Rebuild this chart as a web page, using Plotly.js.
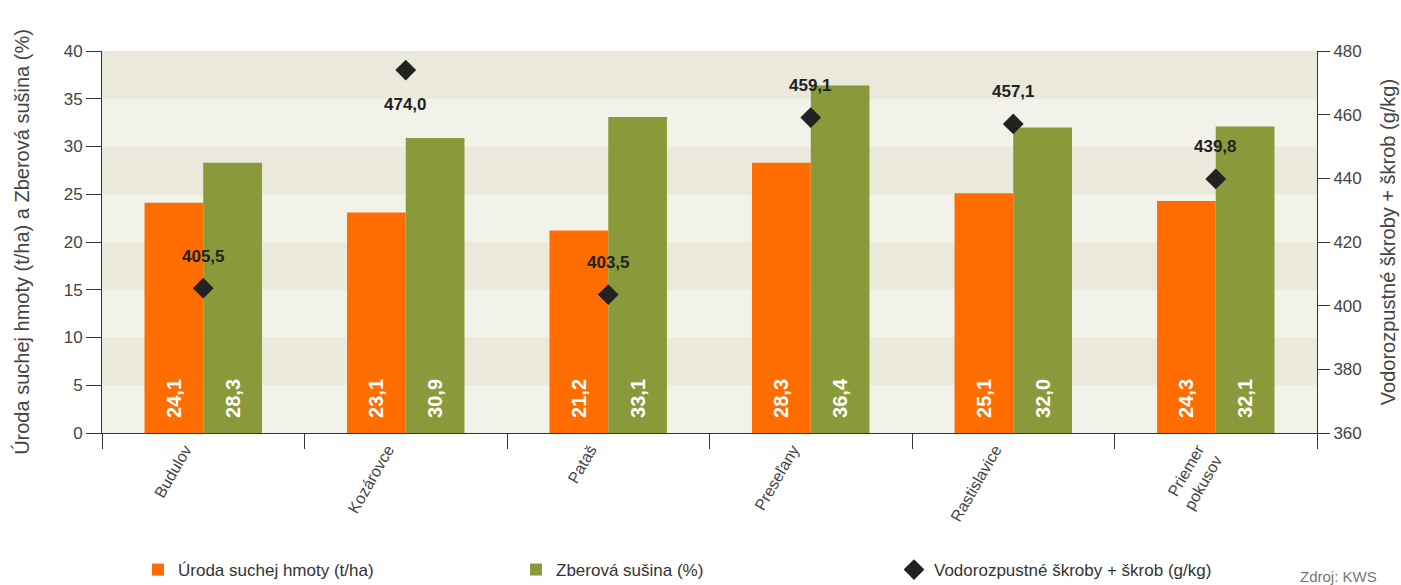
<!DOCTYPE html>
<html><head><meta charset="utf-8">
<script src="https://cdn.plot.ly/plotly-3.0.1.min.js"></script>
<style>html,body{margin:0;padding:0;background:#fff;}#chart{width:1401px;height:585px;}</style>
</head><body><div id="chart"></div>
<script>
const categories = ['Budulov','Kozárovce','Pataš','Preseľany','Rastislavice','Priemer<br>pokusov'];
const yieldDM = [24.1, 23.1, 21.2, 28.3, 25.1, 24.3];
const dryMatter = [28.3, 30.9, 33.1, 36.4, 32.0, 32.1];
const starch = [405.5, 474.0, 403.5, 459.1, 457.1, 439.8];
const leftTicks = [0,5,10,15,20,25,30,35,40];

const FONT = 'Liberation Sans, Arial, sans-serif';
const fmt = v => v.toFixed(1).replace('.', ',');
const pad = '<span style="color:rgba(0,0,0,0)">_</span>';

const traces = [
  {type:'bar', name:'Úroda suchej hmoty (t/ha)', x:categories, y:yieldDM,
   marker:{color:'#ff6d00'}, text:yieldDM.map(v => pad + fmt(v)), textposition:'inside',
   insidetextanchor:'start', textangle:-90, textfont:{color:'#ffffff', size:20, family:FONT, weight:'bold'},
   hoverinfo:'skip'},
  {type:'bar', name:'Zberová sušina (%)', x:categories, y:dryMatter,
   marker:{color:'#8a9a3a'}, text:dryMatter.map(v => pad + fmt(v)), textposition:'inside',
   insidetextanchor:'start', textangle:-90, textfont:{color:'#ffffff', size:20, family:FONT, weight:'bold'},
   hoverinfo:'skip'},
  {type:'scatter', mode:'markers', name:'Vodorozpustné škroby + škrob (g/kg)', x:categories, y:starch,
   yaxis:'y2', marker:{symbol:'diamond', size:16, color:'#222222'}, hoverinfo:'skip'}
];

const shapes = [];
for (let i = 0; i < leftTicks.length - 1; i++) {
  shapes.push({type:'rect', xref:'paper', yref:'y', x0:0, x1:1, y0:leftTicks[i], y1:leftTicks[i+1],
    fillcolor: (i % 2 === 1) ? '#ebe8dc' : '#f2f2ea', line:{width:0}, layer:'below'});
}

const annotations = starch.map((v, i) => ({
  x: categories[i], y: v, xref:'x', yref:'y2', text: fmt(v), showarrow:false,
  yshift: v > 470 ? -34 : 32, font:{size:17, color:'#222', family:FONT, weight:'bold'}
}));
annotations.push({xref:'paper', yref:'paper', x:(1298-102)/1215, y:-(566-433)/382, xanchor:'left', yanchor:'top',
  text:'Zdroj: KWS', showarrow:false, font:{size:15, color:'#777', family:FONT}});

const layout = {
  width:1401, height:585,
  margin:{l:102, r:84, t:51, b:152, autoexpand:false},
  paper_bgcolor:'#ffffff', plot_bgcolor:'#f2f2ea',
  font:{family:FONT, color:'#444', size:16},
  separators:', ',
  barmode:'group', bargap:0.42, bargroupgap:0,
  showlegend:true,
  legend:{orientation:'h', xref:'container', yref:'container', x:138/1401, xanchor:'left', y:(585-552)/585, yanchor:'top',
    entrywidth:333, font:{size:17, color:'#333'}, bgcolor:'rgba(0,0,0,0)'},
  xaxis:{type:'category', tickson:'boundaries', ticks:'outside', ticklen:15, tickcolor:'#333',
    showline:true, linecolor:'#333', linewidth:1, tickangle:-60, showgrid:false, ticklabelshift:-18,
    tickfont:{size:16, color:'#444'}},
  yaxis:{range:[0,40], tickvals:leftTicks, ticks:'outside', ticklen:15, tickcolor:'#333',
    showline:true, linecolor:'#333', showgrid:false, zeroline:false, tickfont:{size:17, color:'#444'},
    title:{text:'Úroda suchej hmoty (t/ha) a Zberová sušina (%)', font:{size:20, color:'#444'}, standoff:28}},
  yaxis2:{range:[360,480], dtick:20, overlaying:'y', side:'right', ticks:'outside', ticklen:12, tickcolor:'#333',
    showline:true, linecolor:'#333', showgrid:false, zeroline:false, tickfont:{size:17, color:'#444'},
    title:{text:'Vodorozpustné škroby + škrob (g/kg)', font:{size:20, color:'#444'}, standoff:20}},
  shapes:shapes,
  annotations:annotations
};

Plotly.newPlot('chart', traces, layout, {displayModeBar:false, staticPlot:true});
</script></body></html>
